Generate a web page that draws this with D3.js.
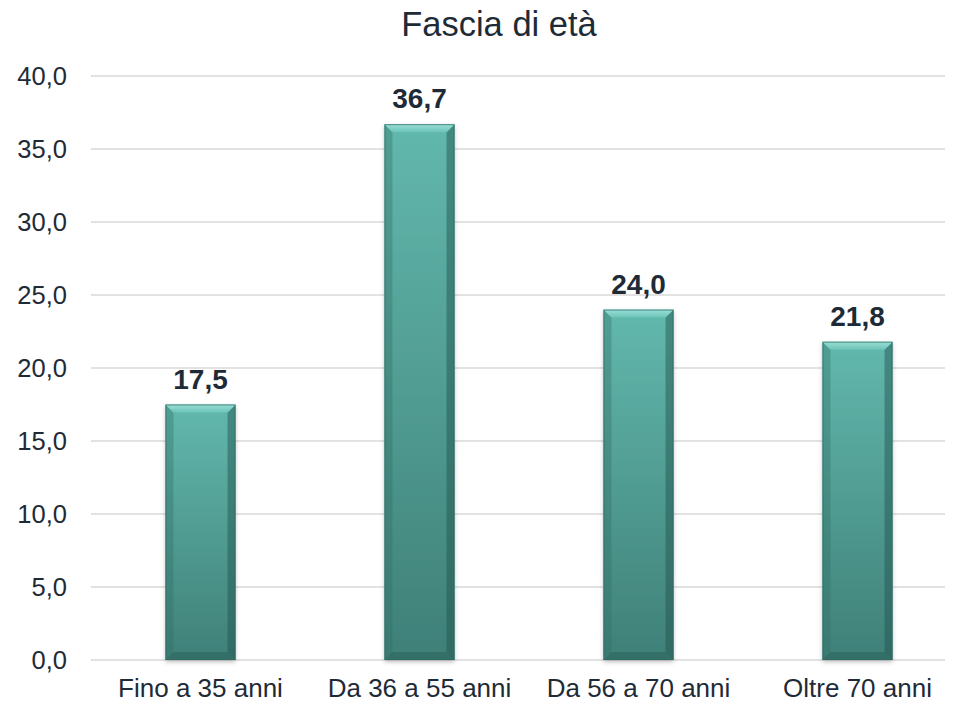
<!DOCTYPE html>
<html><head><meta charset="utf-8">
<script src="https://cdn.jsdelivr.net/npm/d3@7"></script>
<style>body{margin:0;background:#fff}svg{display:block;font-family:"Liberation Sans",Arial,sans-serif}</style>
</head><body>
<svg id="c" width="964" height="704"></svg>
<script>
const title = "Fascia di età";
const categories = ["Fino a 35 anni","Da 36 a 55 anni","Da 56 a 70 anni","Oltre 70 anni"];
const values = [17.5, 36.7, 24.0, 21.8];
const tickValues = [0,5,10,15,20,25,30,35,40];

(function(){
const svg = d3.select("#c");
const mLeft=91, gridRight=945, xRight=967, mTop=76, mBottom=660;
const textColor="#1e2b37";
const fmt = v => d3.format(".1f")(v).replace(".", ",");

const x = d3.scaleBand().domain(categories).range([mLeft, xRight]).paddingInner(0.68).paddingOuter(0.34);
const y = d3.scaleLinear().domain([0,40]).range([mBottom, mTop]);

const defs = svg.append("defs");
const g1 = defs.append("linearGradient").attr("id","barg").attr("x1",0).attr("y1",0).attr("x2",0).attr("y2",1);
g1.append("stop").attr("offset","0%").attr("stop-color","#62b8ad");
g1.append("stop").attr("offset","100%").attr("stop-color","#3f8078");
const gTop = defs.append("linearGradient").attr("id","topg").attr("x1",0).attr("y1",0).attr("x2",0).attr("y2",1);
gTop.append("stop").attr("offset","0%").attr("stop-color","#9be0d6");
gTop.append("stop").attr("offset","100%").attr("stop-color","#6cc3b8");
const f = defs.append("filter").attr("id","sh").attr("x","-20%").attr("y","-5%").attr("width","140%").attr("height","115%");
f.append("feDropShadow").attr("dx",0).attr("dy",2).attr("stdDeviation",2).attr("flood-color","#000").attr("flood-opacity",0.25);

svg.append("g").selectAll("line").data(tickValues).join("line")
  .attr("x1",mLeft).attr("x2",gridRight)
  .attr("y1",d=>y(d)).attr("y2",d=>y(d))
  .attr("stroke","#d9d9d9").attr("stroke-width",1.3);

svg.append("g").selectAll("text").data(tickValues).join("text")
  .attr("x",67).attr("y",d=>y(d)).attr("dy","0.36em")
  .attr("text-anchor","end").attr("font-size",25.5).attr("fill",textColor)
  .text(d=>fmt(d));

const bw = x.bandwidth(), bev = 8;
const bars = svg.append("g").selectAll("g").data(values).join("g")
  .attr("transform",(d,i)=>`translate(${x(categories[i])},0)`);
bars.append("rect").attr("x",0).attr("y",d=>y(d)).attr("width",bw).attr("height",d=>y(0)-y(d))
  .attr("fill","url(#barg)").attr("filter","url(#sh)");
bars.append("path").attr("d",d=>`M0,${y(d)} L${bev},${y(d)+bev} L${bev},${y(0)-bev} L0,${y(0)} Z`)
  .attr("fill","#2f6c65").attr("opacity",0.35);
bars.append("path").attr("d",d=>`M${bw},${y(d)} L${bw-bev},${y(d)+bev} L${bw-bev},${y(0)-bev} L${bw},${y(0)} Z`)
  .attr("fill","#1f4f4a").attr("opacity",0.45);
bars.append("path").attr("d",d=>`M0,${y(0)} L${bev},${y(0)-bev} L${bw-bev},${y(0)-bev} L${bw},${y(0)} Z`)
  .attr("fill","#1f4f4a").attr("opacity",0.35);
bars.append("path").attr("d",d=>`M0,${y(d)} L${bw},${y(d)} L${bw-bev},${y(d)+bev} L${bev},${y(d)+bev} Z`)
  .attr("fill","url(#topg)");
bars.append("rect").attr("x",0.5).attr("y",d=>y(d)+0.5).attr("width",bw-1).attr("height",d=>y(0)-y(d)-1)
  .attr("fill","none").attr("stroke","#2e6a63").attr("stroke-width",1).attr("opacity",0.7);

svg.append("g").selectAll("text").data(values).join("text")
  .attr("x",(d,i)=>x(categories[i])+bw/2).attr("y",d=>y(d)-16)
  .attr("text-anchor","middle").attr("font-size",28).attr("font-weight","bold").attr("fill",textColor)
  .text(d=>fmt(d));

svg.append("g").selectAll("text").data(categories).join("text")
  .attr("x",d=>x(d)+bw/2).attr("y",697)
  .attr("text-anchor","middle").attr("font-size",26).attr("fill",textColor)
  .text(d=>d);

svg.append("text").attr("x",499).attr("y",36).attr("text-anchor","middle")
  .attr("font-size",34.5).attr("fill",textColor).text(title);
})();
</script>
</body></html>
